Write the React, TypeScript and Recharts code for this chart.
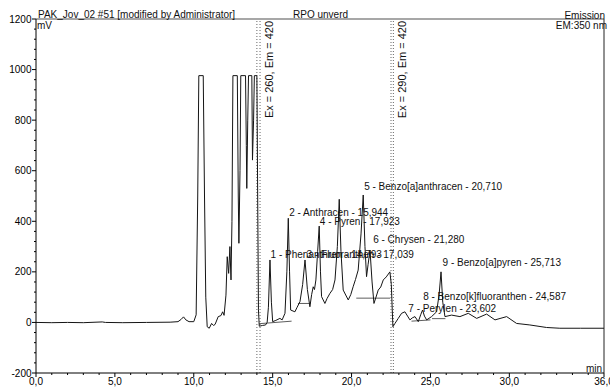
import React from 'react';
import { ComposedChart, Line, Scatter, XAxis, YAxis, ReferenceLine } from 'recharts';

// Chromatogram trace: retention time (min) and signal (mV)
const timeMin = [
  0.0, 1.0, 2.0, 3.0, 4.2, 4.4, 5.5, 7.0, 8.5, 9.0, 9.2, 9.35, 9.5, 9.7, 10.0,
  10.15, 10.25, 10.32, 10.6, 10.68, 10.76, 10.85, 10.98, 11.13, 11.25, 11.35, 11.55, 11.72, 11.83, 11.92,
  12.04, 12.12, 12.21, 12.29, 12.36, 12.42, 12.48, 12.76, 12.82, 12.86, 12.93, 12.98, 13.28, 13.33, 13.36,
  13.42, 13.47, 13.68, 13.72, 13.79, 13.84, 14.0, 14.05, 14.1, 14.15, 14.35, 14.55, 14.65, 14.73, 14.83,
  14.92, 15.0, 15.2, 15.46, 15.6, 15.78, 15.9, 15.99, 16.07, 16.14, 16.41, 16.55, 16.73, 16.9, 17.05,
  17.2, 17.36, 17.47, 17.57, 17.65, 17.74, 17.85, 17.95, 18.03, 18.1, 18.31, 18.45, 18.63, 18.8, 18.95,
  19.1, 19.22, 19.33, 19.47, 19.79, 19.95, 20.1, 20.25, 20.42, 20.6, 20.74, 20.85, 20.95, 21.05, 21.17,
  21.3, 21.42, 21.55, 21.69, 21.85, 22.01, 22.2, 22.43, 22.52, 22.58, 22.62, 22.75, 22.96, 23.17, 23.38,
  23.55, 23.7, 23.85, 24.02, 24.23, 24.38, 24.5, 24.62, 24.76, 25.07, 25.39, 25.55, 25.67, 25.78, 25.92,
  26.34, 26.87, 27.4, 27.93, 28.56, 29.09, 29.83, 30.46, 31.3, 32.36, 33.2, 34.5, 36.0,
];
const signalMv = [
  0, -1, 0, -1, 2, 0, -1, 0, 1, 3, 12, 22, 10, 3, 3,
  30, 500, 976, 976, 500, 100, -17, -23, -4, -12, -8, 23, 27, 42, 28,
  108, 260, 194, 300, 168, 400, 976, 976, 500, 313, 600, 976, 976, 700, 530,
  800, 976, 976, 642, 800, 976, 976, 500, 50, -15, -12, -10, 0, 60, 247,
  80, 3, 8, 16, 10, 36, 200, 412, 200, 49, 42, 60, 82, 150, 247,
  130, 62, 110, 141, 130, 168, 280, 381, 200, 102, 75, 95, 115, 130, 168,
  300, 487, 280, 128, 89, 110, 141, 170, 207, 350, 504, 300, 181, 230, 286,
  160, 75, 100, 128, 140, 168, 180, 200, 150, 50, -17, -4, 16, 36, 42,
  25, 10, 18, 23, 3, 30, 49, 25, 10, 23, 42, 110, 200, 80, 23,
  29, 23, 36, 16, 33, 10, 23, -4, -10, -20, -23, -23, -23,
];

// Integration baselines drawn under peaks (start/end time, start/end mV)
const baselineStartTime = [14.15, 16.6, 20.3, 23.8, 25.1];
const baselineEndTime = [16.2, 17.4, 22.45, 25.0, 25.95];
const baselineStartMv = [-5, 75, 96, 5, 15];
const baselineEndMv = [5, 75, 96, 10, 15];

// Peak labels
const peakLabels = [
  '1 - Phenanthren - 14,793',
  '2 - Anthracen - 15,944',
  '3 - Fluoranthen - 17,039',
  '4 - Pyren - 17,923',
  '5 - Benzo[a]anthracen - 20,710',
  '6 - Chrysen - 21,280',
  '7 - Perylen - 23,602',
  '8 - Benzo[k]fluoranthen - 24,587',
  '9 - Benzo[a]pyren - 25,713',
];
const peakLabelTime = [14.87, 16.05, 17.15, 17.99, 20.8, 21.37, 23.6, 24.54, 25.77];
const peakLabelMv = [270, 436, 270, 401, 539, 326, 57, 101, 236];

// Wavelength switch annotations
const switchLines = [14.0, 14.2, 22.5, 22.65];
const switchLabels = ['Ex = 260, Em = 420', 'Ex = 290, Em = 420'];
const switchLabelTime = [15.05, 23.48];
const switchLabelMv = [808, 808];

const xTicks = [0, 1, 2, 3, 4, 5, 6, 7, 8, 9, 10, 11, 12, 13, 14, 15, 16, 17, 18, 19, 20, 21, 22, 23, 24, 25, 26, 27, 28, 29, 30, 31, 32, 33, 34, 35, 36];
const xTickLabels = [0, 5, 10, 15, 20, 25, 30, 36];
const yTicks = [-200, -160, -120, -80, -40, 0, 40, 80, 120, 160, 200, 240, 280, 320, 360, 400, 440, 480, 520, 560, 600, 640, 680, 720, 760, 800, 840, 880, 920, 960, 1000, 1040, 1080, 1120, 1160, 1200];
const yTickLabels = [-200, 0, 200, 400, 600, 800, 1000, 1200];

const FONT = '"Liberation Sans", Arial, sans-serif';

const trace = timeMin.map((t, i) => ({ t, v: signalMv[i] }));
const baselines = baselineStartTime.map((t, i) => [
  { t, v: baselineStartMv[i] },
  { t: baselineEndTime[i], v: baselineEndMv[i] },
]);
const labelData = peakLabels.map((text, i) => ({ t: peakLabelTime[i], mv: peakLabelMv[i], text }));
const switchData = switchLabels.map((text, i) => ({ t: switchLabelTime[i], mv: switchLabelMv[i], text }));

const XTick = (props: any) => {
  const { x, y, payload } = props;
  const v = payload.value;
  const major = xTickLabels.includes(v);
  return (
    <g>
      <line x1={x} x2={x} y1={y} y2={y + (major ? 4 : 2)} stroke="#000" strokeWidth={1} />
      {major && (
        <text x={x} y={y + 12} textAnchor="middle" fontSize={10} fontFamily={FONT} fill="#000">
          {v.toFixed(1).replace('.', ',')}
        </text>
      )}
    </g>
  );
};

const YTick = (props: any) => {
  const { x, y, payload } = props;
  const v = payload.value;
  const major = yTickLabels.includes(v);
  return (
    <g>
      <line x1={x - (major ? 4 : 2)} x2={x} y1={y} y2={y} stroke="#000" strokeWidth={1} />
      {major && (
        <text x={x - 4.5} y={y + 3.5} textAnchor="end" fontSize={10} fontFamily={FONT} fill="#000">
          {v}
        </text>
      )}
    </g>
  );
};

const PeakLabel = (props: any) => {
  const { cx, cy, payload } = props;
  if (cx == null || cy == null) return <g />;
  return (
    <text x={cx} y={cy + 3.5} fontSize={10} fontFamily={FONT} fill="#111">
      {payload.text}
    </text>
  );
};

const SwitchLabel = (props: any) => {
  const { cx, cy, payload } = props;
  if (cx == null || cy == null) return <g />;
  return (
    <text
      x={cx}
      y={cy}
      transform={`rotate(-90 ${cx} ${cy})`}
      fontSize={11}
      fontFamily={FONT}
      fill="#111"
    >
      {payload.text}
    </text>
  );
};

export default function App() {
  return (
    <div style={{ position: 'absolute', left: 0, top: 0, width: 610, height: 389, background: '#fff' }}>
      <ComposedChart width={610} height={389} margin={{ top: 19, right: 6, bottom: 0, left: 0 }}>
        <XAxis
          dataKey="t"
          type="number"
          domain={[0, 36]}
          ticks={xTicks}
          interval={0}
          allowDataOverflow
          height={16}
          tickSize={0}
          tickMargin={0}
          tickLine={false}
          axisLine={{ stroke: '#000' }}
          tick={<XTick />}
        />
        <YAxis
          type="number"
          domain={[-200, 1200]}
          ticks={yTicks}
          interval={0}
          allowDataOverflow
          width={36}
          tickSize={0}
          tickMargin={0}
          tickLine={false}
          axisLine={{ stroke: '#000' }}
          tick={<YTick />}
        />
        <ReferenceLine y={1200} stroke="#8a8a8a" strokeWidth={1.5} />
        <ReferenceLine x={36} stroke="#222" strokeWidth={1} />
        {switchLines.map((x, i) => (
          <ReferenceLine key={'sw' + i} x={x} stroke="#666" strokeDasharray="1 2" strokeWidth={1} />
        ))}
        {baselines.map((seg, i) => (
          <Line
            key={'bl' + i}
            data={seg}
            dataKey="v"
            type="linear"
            stroke="#333"
            strokeWidth={0.8}
            dot={false}
            isAnimationActive={false}
          />
        ))}
        <Line
          data={trace}
          dataKey="v"
          type="linear"
          stroke="#151515"
          strokeWidth={1}
          dot={false}
          isAnimationActive={false}
        />
        <Scatter data={labelData} dataKey="mv" shape={<PeakLabel />} isAnimationActive={false} />
        <Scatter data={switchData} dataKey="mv" shape={<SwitchLabel />} isAnimationActive={false} />
      </ComposedChart>
      <svg
        width={610}
        height={389}
        style={{ position: 'absolute', left: 0, top: 0, pointerEvents: 'none' }}
      >
        <text x={38} y={17.5} fontSize={10} fontFamily={FONT} fill="#111">
          PAK_Jov_02 #51 [modified by Administrator]
        </text>
        <text x={293} y={18} fontSize={10} fontFamily={FONT} fill="#111">
          RPO unverd
        </text>
        <text x={605} y={18.5} textAnchor="end" fontSize={10} fontFamily={FONT} fill="#111">
          Emission
        </text>
        <text x={607} y={28.5} textAnchor="end" fontSize={10} fontFamily={FONT} fill="#111">
          EM:350 nm
        </text>
        <text x={37} y={29} fontSize={10} fontFamily={FONT} fill="#111">
          mV
        </text>
        <text x={602} y={371.5} textAnchor="end" fontSize={10} fontFamily={FONT} fill="#111">
          min
        </text>
      </svg>
    </div>
  );
}
